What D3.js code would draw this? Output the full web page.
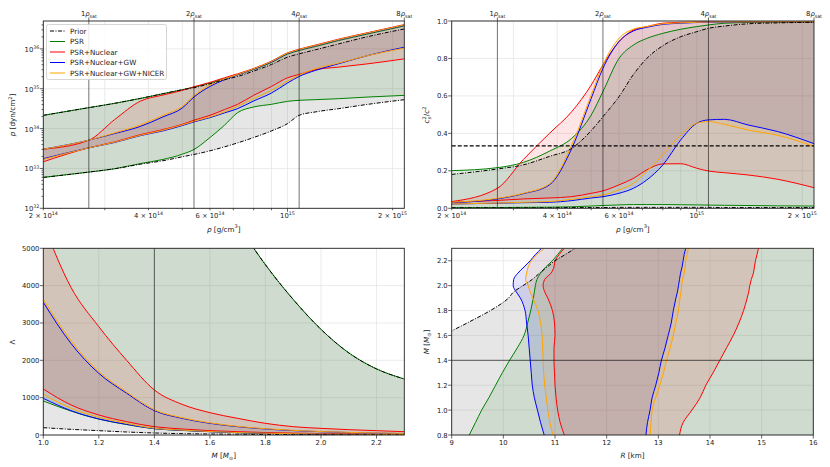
<!DOCTYPE html>
<html><head><meta charset="utf-8">
<script src="https://cdn.jsdelivr.net/npm/d3@7/dist/d3.min.js"></script>
<style>body{margin:0;background:#fff}svg{display:block}</style>
</head><body>
<script>
// ---------------- DATA ----------------
const SERIES = ["Prior", "PSR", "PSR+Nuclear", "PSR+Nuclear+GW", "PSR+Nuclear+GW+NICER"];
const RHO_SAT = [2.7e14, 5.4e14, 1.08e15, 2.16e15];
const RHO_SAT_LABELS = ["1", "2", "4", "8"];

// density grid [g/cm^3] (top panels)
const RHO = [2.0e14, 2.7e14, 3.2e14, 3.8e14, 4.4e14, 5.0e14, 5.4e14, 6.0e14, 6.6e14, 7.2e14, 8.0e14, 9.0e14, 1.0e15, 1.08e15, 1.2e15, 1.4e15, 1.7e15, 2.16e15];

// pressure bands [dyn/cm^2]
const pPriorLo = [5.96e32, 8.10e32, 9.82e32, 1.28e33, 1.56e33, 1.96e33, 2.24e33, 2.77e33, 3.48e33, 4.38e33, 5.96e33, 8.75e33, 1.33e34, 2.15e34, 2.61e34, 3.16e34, 4.06e34, 5.31e34];
const pPriorHi = [2.15e34, 3.35e34, 4.30e34, 5.73e34, 7.50e34, 9.44e34, 1.06e35, 1.33e35, 1.68e35, 2.03e35, 2.77e35, 4.06e35, 6.19e35, 7.50e35, 9.44e35, 1.33e36, 2.03e36, 3.16e36];
const pPsrLo = [5.96e32, 8.10e32, 9.82e32, 1.33e33, 1.68e33, 2.28e33, 2.99e33, 5.96e33, 1.21e34, 2.51e34, 3.48e34, 4.06e34, 4.82e34, 5.11e34, 5.31e34, 5.62e34, 6.19e34, 6.81e34];
const pPsrHi = [2.15e34, 3.35e34, 4.30e34, 5.73e34, 7.50e34, 9.44e34, 1.10e35, 1.39e35, 1.78e35, 2.24e35, 3.04e35, 4.55e35, 7.36e35, 9.08e35, 1.14e36, 1.61e36, 2.37e36, 3.76e36];
const pNucLo = [1.47e33, 3.29e33, 4.64e33, 7.08e33, 9.44e33, 1.28e34, 1.62e34, 2.15e34, 2.99e34, 4.06e34, 6.81e34, 1.14e35, 1.88e35, 2.28e35, 2.99e35, 3.48e35, 4.22e35, 5.62e35];
const pNucHi = [3.04e33, 5.11e33, 1.68e34, 4.92e34, 6.95e34, 9.08e34, 1.12e35, 1.44e35, 1.88e35, 2.37e35, 3.22e35, 4.92e35, 7.94e35, 9.81e35, 1.24e36, 1.75e36, 2.56e36, 4.06e36];
const pGwLo = [1.75e33, 3.29e33, 4.47e33, 6.68e33, 8.75e33, 1.19e34, 1.47e34, 1.88e34, 2.47e34, 3.16e34, 4.92e34, 7.79e34, 1.39e35, 2.03e35, 2.87e35, 4.22e35, 6.81e35, 1.10e36];
const pGwHi = [3.04e33, 5.11e33, 7.50e33, 1.14e34, 1.96e34, 3.29e34, 6.19e34, 1.14e35, 1.68e35, 2.24e35, 3.10e35, 4.73e35, 7.64e35, 9.44e35, 1.19e36, 1.68e36, 2.47e36, 3.91e36];
const pNicerLo = [1.68e33, 3.29e33, 4.55e33, 6.81e33, 9.08e33, 1.24e34, 1.52e34, 1.96e34, 2.61e34, 3.61e34, 5.62e34, 9.08e34, 1.56e35, 2.20e35, 3.16e35, 4.38e35, 6.81e35, 1.04e36];
const pNicerHi = [3.04e33, 5.11e33, 7.79e33, 1.24e34, 2.15e34, 3.61e34, 6.68e34, 1.24e35, 1.75e35, 2.28e35, 3.16e35, 4.82e35, 7.79e35, 9.62e35, 1.21e36, 1.71e36, 2.51e36, 3.98e36];

// squared sound speed bands [c^2]
const csPriorLo = [0.003, 0.003, 0.003, 0.003, 0.004, 0.004, 0.004, 0.005, 0.005, 0.005, 0.005, 0.005, 0.005, 0.005, 0.004, 0.004, 0.004, 0.004];
const csPriorHi = [0.181, 0.21, 0.232, 0.277, 0.32, 0.415, 0.489, 0.596, 0.715, 0.80, 0.868, 0.916, 0.943, 0.961, 0.973, 0.985, 0.99, 0.993];
const csPsrLo = [0.003, 0.004, 0.005, 0.006, 0.008, 0.012, 0.015, 0.018, 0.02, 0.02, 0.02, 0.019, 0.018, 0.017, 0.016, 0.015, 0.013, 0.012];
const csPsrHi = [0.201, 0.217, 0.245, 0.305, 0.374, 0.498, 0.623, 0.80, 0.872, 0.907, 0.934, 0.956, 0.97, 0.979, 0.988, 0.992, 0.994, 0.995];
const csNucLo = [0.032, 0.042, 0.05, 0.055, 0.062, 0.08, 0.093, 0.125, 0.16, 0.205, 0.237, 0.238, 0.214, 0.199, 0.19, 0.178, 0.155, 0.11];
const csNucHi = [0.036, 0.107, 0.26, 0.40, 0.516, 0.658, 0.765, 0.89, 0.952, 0.97, 0.988, 0.993, 0.995, 0.996, 0.996, 0.996, 0.996, 0.996];
const csGwLo = [0.023, 0.027, 0.03, 0.032, 0.041, 0.055, 0.062, 0.08, 0.107, 0.151, 0.231, 0.365, 0.454, 0.472, 0.475, 0.445, 0.41, 0.345];
const csGwHi = [0.03, 0.05, 0.078, 0.125, 0.32, 0.587, 0.747, 0.89, 0.947, 0.966, 0.982, 0.988, 0.992, 0.994, 0.995, 0.996, 0.996, 0.996];
const csNicerLo = [0.023, 0.028, 0.032, 0.036, 0.048, 0.062, 0.071, 0.098, 0.133, 0.196, 0.285, 0.391, 0.454, 0.463, 0.448, 0.418, 0.39, 0.33];
const csNicerHi = [0.032, 0.053, 0.08, 0.13, 0.338, 0.605, 0.765, 0.907, 0.957, 0.97, 0.985, 0.99, 0.993, 0.995, 0.996, 0.996, 0.996, 0.996];

// tidal deformability bands vs mass [M_sun]
const M_LAM = [1.0, 1.1, 1.2, 1.3, 1.4, 1.5, 1.6, 1.7, 1.8, 1.9, 2.0, 2.1, 2.2, 2.3];
const lamPriorLo = [196, 152, 116, 80, 54, 36, 27, 20, 15, 11, 8, 6, 5, 4];
const lamPriorHi = [60000, 35000, 21000, 14000, 10000, 8200, 6900, 5650, 4560, 3630, 2830, 2200, 1770, 1500];
const lamPsrLo = [911, 640, 425, 280, 168, 122, 88, 62, 44, 32, 23, 17, 12, 9];
const lamPsrHi = [60000, 35000, 21000, 14000, 10000, 8200, 6900, 5650, 4560, 3630, 2830, 2200, 1770, 1500];
const lamNucLo = [1232, 804, 536, 357, 223, 161, 116, 89, 66, 50, 38, 29, 22, 17];
const lamNucHi = [5650, 3950, 2900, 2000, 1205, 821, 598, 446, 312, 223, 178, 143, 116, 89];
const lamGwLo = [982, 652, 429, 286, 170, 125, 89, 62, 45, 33, 24, 18, 13, 10];
const lamGwHi = [3554, 2450, 1650, 1120, 652, 446, 312, 223, 160, 118, 88, 66, 50, 40];
const lamNicerLo = [1089, 714, 473, 312, 179, 130, 93, 66, 48, 35, 26, 19, 14, 11];
const lamNicerHi = [3634, 2520, 1700, 1150, 675, 462, 325, 232, 168, 124, 92, 70, 54, 43];

// radius bands [km] vs mass [M_sun]
const M_MR = [0.8, 0.9, 1.0, 1.1, 1.2, 1.3, 1.4, 1.5, 1.6, 1.7, 1.8, 1.9, 1.95, 2.0, 2.05, 2.1, 2.15, 2.2, 2.25, 2.3];
const rPriorMin = [6.0, 6.4, 6.8, 7.2, 7.6, 8.0, 8.3, 8.6, 8.85, 9.3, 9.75, 10.1, 10.2, 10.38, 10.56, 10.7, 10.85, 11.0, 11.2, 11.39];
const rPriorMax = [17, 17, 17, 17, 17, 17, 17, 17, 17, 17, 17, 17, 17, 17, 17, 17, 17, 17, 17, 17];
const rPsrMin = [9.34, 9.46, 9.58, 9.72, 9.85, 9.98, 10.12, 10.27, 10.4, 10.47, 10.53, 10.58, 10.6, 10.62, 10.65, 10.72, 10.82, 10.95, 11.05, 11.15];
const rPsrMax = [17, 17, 17, 17, 17, 17, 17, 17, 17, 17, 17, 17, 17, 17, 17, 17, 17, 17, 17, 17];
const rNucMin = [11.18, 11.1, 11.05, 11.02, 11.0, 10.99, 10.98, 10.98, 11.0, 10.99, 10.95, 10.86, 10.8, 10.77, 10.8, 10.92, 10.98, 11.0, 11.08, 11.18];
const rNucMax = [13.41, 13.48, 13.65, 13.81, 13.92, 14.06, 14.19, 14.32, 14.45, 14.56, 14.65, 14.72, 14.75, 14.77, 14.8, 14.84, 14.86, 14.88, 14.91, 14.94];
const rGwMin = [10.79, 10.72, 10.66, 10.6, 10.56, 10.54, 10.52, 10.5, 10.48, 10.45, 10.42, 10.33, 10.25, 10.19, 10.2, 10.28, 10.4, 10.52, 10.62, 10.74];
const rGwMax = [12.76, 12.79, 12.84, 12.88, 12.95, 13.01, 13.06, 13.13, 13.19, 13.25, 13.29, 13.34, 13.37, 13.39, 13.41, 13.43, 13.46, 13.48, 13.5, 13.53];
const rNicerMin = [10.96, 10.9, 10.86, 10.83, 10.8, 10.78, 10.77, 10.76, 10.75, 10.72, 10.67, 10.57, 10.52, 10.48, 10.43, 10.45, 10.48, 10.54, 10.65, 10.8];
const rNicerMax = [12.84, 12.86, 12.88, 12.95, 13.03, 13.1, 13.16, 13.23, 13.29, 13.34, 13.39, 13.42, 13.44, 13.45, 13.47, 13.5, 13.52, 13.53, 13.56, 13.58];

// tick values
const LAM_TICKS = [0, 1000, 2000, 3000, 4000, 5000];
const M_TICKS = [1.0, 1.2, 1.4, 1.6, 1.8, 2.0, 2.2];
const R_TICKS = [9, 10, 11, 12, 13, 14, 15, 16];
const MR_TICKS = [0.8, 1.0, 1.2, 1.4, 1.6, 1.8, 2.0, 2.2];
const CS_TICKS = [0.0, 0.2, 0.4, 0.6, 0.8, 1.0];
const P_TICKS = [1e32, 1e33, 1e34, 1e35, 1e36];

// ---------------- STYLE ----------------
const STY = [
  {color: "black", fill: "gray", op: 0.2, dash: "4,1.5,1,1.5"},
  {color: "green", fill: "green", op: 0.1, dash: null},
  {color: "red", fill: "red", op: 0.1, dash: null},
  {color: "blue", fill: "blue", op: 0.1, dash: null},
  {color: "orange", fill: "orange", op: 0.1, dash: null}
];
const FS = 7.2;
const FONT = "DejaVu Sans, sans-serif";

const svg = d3.select("body").append("svg").attr("width", 830).attr("height", 467)
  .style("font-family", FONT);
const defs = svg.append("defs");

function rich(g, x, y, parts, opt = {}) {
  const fs = opt.fs || FS;
  const t = g.append("text").attr("x", x).attr("y", y).attr("font-size", fs)
    .attr("fill", "#222").attr("text-anchor", opt.anchor || "middle");
  if (opt.rotate) t.attr("transform", `rotate(-90,${x},${y})`);
  let shift = 0;
  parts.forEach(p => {
    const target = p.sup ? -0.42 * fs : p.sub ? 0.28 * fs : 0;
    const ts = t.append("tspan").attr("dy", target - shift).text(p.t);
    if (p.sup || p.sub) ts.attr("font-size", fs * 0.7);
    if (p.i) ts.attr("font-style", "italic");
    if (p.dx) ts.attr("dx", p.dx);
    shift = target;
  });
  return t;
}

function makePanel(id, box, xs, ys) {
  const g = svg.append("g");
  defs.append("clipPath").attr("id", id).append("rect")
    .attr("x", box.x0).attr("y", box.y0).attr("width", box.x1 - box.x0).attr("height", box.y1 - box.y0);
  const grid = g.append("g");
  const data = g.append("g").attr("clip-path", `url(#${id})`);
  const over = g.append("g");
  return {g, grid, data, over, box, xs, ys};
}

function frame(p) {
  p.over.append("rect").attr("x", p.box.x0).attr("y", p.box.y0)
    .attr("width", p.box.x1 - p.box.x0).attr("height", p.box.y1 - p.box.y0)
    .attr("fill", "none").attr("stroke", "#222").attr("stroke-width", 0.9);
}
function vgrid(p, vals) {
  vals.forEach(v => p.grid.append("line").attr("x1", p.xs(v)).attr("x2", p.xs(v))
    .attr("y1", p.box.y0).attr("y2", p.box.y1).attr("stroke", "#e6e6e6").attr("stroke-width", 0.8));
}
function hgrid(p, vals) {
  vals.forEach(v => p.grid.append("line").attr("y1", p.ys(v)).attr("y2", p.ys(v))
    .attr("x1", p.box.x0).attr("x2", p.box.x1).attr("stroke", "#e6e6e6").attr("stroke-width", 0.8));
}
function xtick(p, v, len, yy, dir) {
  p.over.append("line").attr("x1", p.xs(v)).attr("x2", p.xs(v))
    .attr("y1", yy).attr("y2", yy + dir * len).attr("stroke", "#222").attr("stroke-width", 0.7);
}
function ytick(p, v, len) {
  p.over.append("line").attr("y1", p.ys(v)).attr("y2", p.ys(v))
    .attr("x1", p.box.x0).attr("x2", p.box.x0 - len).attr("stroke", "#222").attr("stroke-width", 0.7);
}
function refV(p, v) {
  p.over.append("line").attr("x1", p.xs(v)).attr("x2", p.xs(v)).attr("y1", p.box.y0).attr("y2", p.box.y1)
    .attr("stroke", "#000").attr("stroke-opacity", 0.55).attr("stroke-width", 1);
}

// bands drawn for x-function panels
function bandsX(p, xv, los, his) {
  los.forEach((lo, k) => {
    const d = xv.map((x, i) => ({x, a: lo[i], b: his[k][i]}));
    p.data.append("path").datum(d)
      .attr("d", d3.area().x(q => p.xs(q.x)).y0(q => p.ys(q.a)).y1(q => p.ys(q.b)).curve(d3.curveMonotoneX))
      .attr("fill", STY[k].fill).attr("fill-opacity", STY[k].op).attr("stroke", "none");
  });
  const order = [1, 2, 3, 4, 0];
  order.forEach(k => {
    [los[k], his[k]].forEach(arr => {
      const d = xv.map((x, i) => ({x, v: arr[i]}));
      p.data.append("path").datum(d)
        .attr("d", d3.line().x(q => p.xs(q.x)).y(q => p.ys(q.v)).curve(d3.curveMonotoneX))
        .attr("fill", "none").attr("stroke", STY[k].color).attr("stroke-width", 1)
        .attr("stroke-dasharray", STY[k].dash);
    });
  });
}

// ---------- Panel boxes ----------
const boxTL = {x0: 43.3, x1: 404.3, y0: 21, y1: 208.3};
const boxTR = {x0: 451.7, x1: 814, y0: 21, y1: 208.3};
const boxBL = {x0: 43.3, x1: 404.3, y0: 248.3, y1: 435};
const boxBR = {x0: 451.7, x1: 813.3, y0: 248.3, y1: 435};

const RHO_MINOR = [2e14, 3e14, 4e14, 5e14, 6e14, 7e14, 8e14, 9e14, 1e15, 2e15];
const RHO_LABELED = [[2e14, "2 × 10", "14"], [4e14, "4 × 10", "14"], [6e14, "6 × 10", "14"], [1e15, "10", "15"], [2e15, "2 × 10", "15"]];

function rhoAxes(p) {
  vgrid(p, RHO_MINOR);
  RHO_MINOR.forEach(v => xtick(p, v, v === 1e15 ? 3.5 : 2, p.box.y1, 1));
  RHO_LABELED.forEach(([v, b, s]) => rich(p.over, p.xs(v), p.box.y1 + 9.5, [{t: b}, {t: s, sup: true}], {fs: 6.8}));
  RHO_SAT.forEach((v, i) => {
    xtick(p, v, 3.5, p.box.y0, -1);
    rich(p.over, p.xs(v), p.box.y0 - 5, [{t: RHO_SAT_LABELS[i]}, {t: "ρ", i: true}, {t: "sat", sub: true}], {fs: 6.8});
    if (i < 3) refV(p, v);
  });
  rich(p.over, (p.box.x0 + p.box.x1) / 2, 231.5, [{t: "ρ", i: true}, {t: " [g/cm"}, {t: "3", sup: true}, {t: "]"}]);
}

// ---------- Panel TL: pressure ----------
const pTL = makePanel("cTL", boxTL,
  d3.scaleLog().domain([2e14, 2.16e15]).range([boxTL.x0, boxTL.x1]),
  d3.scaleLog().domain([1e32, 5e36]).range([boxTL.y1, boxTL.y0]));
hgrid(pTL, P_TICKS);
bandsX(pTL, RHO, [pPriorLo, pPsrLo, pNucLo, pGwLo, pNicerLo], [pPriorHi, pPsrHi, pNucHi, pGwHi, pNicerHi]);
rhoAxes(pTL);
P_TICKS.forEach(v => {
  ytick(pTL, v, 3.5);
  rich(pTL.over, boxTL.x0 - 4, pTL.ys(v) + 3, [{t: "10"}, {t: String(Math.round(Math.log10(v))), sup: true}], {anchor: "end", fs: 6.8});
});
for (let e = 32; e < 37; e++) for (let m = 2; m <= 9; m++) {
  const v = m * Math.pow(10, e);
  if (v < 5e36) ytick(pTL, v, 1.8);
}
rich(pTL.over, 15, 115, [{t: "p", i: true}, {t: " [dyn/cm"}, {t: "2", sup: true}, {t: "]"}], {rotate: true});
frame(pTL);

// legend
const lg = pTL.over.append("g");
lg.append("rect").attr("x", 46.5).attr("y", 24.5).attr("width", 120).attr("height", 55).attr("rx", 2)
  .attr("fill", "#fff").attr("fill-opacity", 0.85).attr("stroke", "#cccccc").attr("stroke-width", 0.8);
SERIES.forEach((s, i) => {
  const yy = 31 + i * 10.5;
  lg.append("line").attr("x1", 50).attr("x2", 65).attr("y1", yy).attr("y2", yy)
    .attr("stroke", STY[i].color).attr("stroke-width", 1).attr("stroke-dasharray", STY[i].dash);
  lg.append("text").attr("x", 70).attr("y", yy + 2.6).attr("font-size", FS).attr("fill", "#222").text(s);
});

// ---------- Panel TR: sound speed ----------
const pTR = makePanel("cTR", boxTR,
  d3.scaleLog().domain([2e14, 2.16e15]).range([boxTR.x0, boxTR.x1]),
  d3.scaleLinear().domain([0, 1]).range([boxTR.y1, boxTR.y0]));
hgrid(pTR, CS_TICKS);
bandsX(pTR, RHO, [csPriorLo, csPsrLo, csNucLo, csGwLo, csNicerLo], [csPriorHi, csPsrHi, csNucHi, csGwHi, csNicerHi]);
pTR.over.append("line").attr("x1", boxTR.x0).attr("x2", boxTR.x1).attr("y1", pTR.ys(1 / 3)).attr("y2", pTR.ys(1 / 3))
  .attr("stroke", "#000").attr("stroke-width", 1.2).attr("stroke-dasharray", "4,2");
rhoAxes(pTR);
CS_TICKS.forEach(v => {
  ytick(pTR, v, 3.5);
  rich(pTR.over, boxTR.x0 - 4, pTR.ys(v) + 2.5, [{t: v.toFixed(1)}], {anchor: "end", fs: 6.8});
});
rich(pTR.over, 429, 115, [{t: "c", i: true}, {t: "s", sub: true, i: true}, {t: "2", sup: true, dx: -2.6}, {t: "/"}, {t: "c", i: true}, {t: "2", sup: true}], {rotate: true});
frame(pTR);

// ---------- Panel BL: tidal deformability ----------
const pBL = makePanel("cBL", boxBL,
  d3.scaleLinear().domain([1.0, 2.3]).range([boxBL.x0, boxBL.x1]),
  d3.scaleLinear().domain([0, 5000]).range([boxBL.y1, boxBL.y0]));
hgrid(pBL, LAM_TICKS);
vgrid(pBL, M_TICKS);
bandsX(pBL, M_LAM, [lamPriorLo, lamPsrLo, lamNucLo, lamGwLo, lamNicerLo], [lamPriorHi, lamPsrHi, lamNucHi, lamGwHi, lamNicerHi]);
refV(pBL, 1.4);
M_TICKS.forEach(v => {
  xtick(pBL, v, 3.5, boxBL.y1, 1);
  rich(pBL.over, pBL.xs(v), boxBL.y1 + 9.5, [{t: v.toFixed(1)}], {fs: 6.8});
});
LAM_TICKS.forEach(v => {
  ytick(pBL, v, 3.5);
  rich(pBL.over, boxBL.x0 - 4, pBL.ys(v) + 2.5, [{t: String(v)}], {anchor: "end", fs: 6.8});
});
rich(pBL.over, 223.8, 457.5, [{t: "M", i: true}, {t: " ["}, {t: "M", i: true}, {t: "⊙", sub: true}, {t: "]"}]);
rich(pBL.over, 15, 342, [{t: "Λ"}], {rotate: true});
frame(pBL);

// ---------- Panel BR: mass-radius ----------
const pBR = makePanel("cBR", boxBR,
  d3.scaleLinear().domain([9, 16]).range([boxBR.x0, boxBR.x1]),
  d3.scaleLinear().domain([0.8, 2.3]).range([boxBR.y1, boxBR.y0]));
hgrid(pBR, MR_TICKS);
vgrid(pBR, R_TICKS);
{
  const mins = [rPriorMin, rPsrMin, rNucMin, rGwMin, rNicerMin];
  const maxs = [rPriorMax, rPsrMax, rNucMax, rGwMax, rNicerMax];
  mins.forEach((mn, k) => {
    const d = M_MR.map((m, i) => ({m, a: mn[i], b: maxs[k][i]}));
    pBR.data.append("path").datum(d)
      .attr("d", d3.area().y(q => pBR.ys(q.m)).x0(q => pBR.xs(q.a)).x1(q => pBR.xs(q.b)).curve(d3.curveMonotoneY))
      .attr("fill", STY[k].fill).attr("fill-opacity", STY[k].op);
  });
  [1, 2, 3, 4, 0].forEach(k => {
    [mins[k], maxs[k]].forEach(arr => {
      const d = M_MR.map((m, i) => ({m, v: arr[i]}));
      pBR.data.append("path").datum(d)
        .attr("d", d3.line().y(q => pBR.ys(q.m)).x(q => pBR.xs(q.v)).curve(d3.curveMonotoneY))
        .attr("fill", "none").attr("stroke", STY[k].color).attr("stroke-width", 1)
        .attr("stroke-dasharray", STY[k].dash);
    });
  });
}
pBR.over.append("line").attr("x1", boxBR.x0).attr("x2", boxBR.x1).attr("y1", pBR.ys(1.4)).attr("y2", pBR.ys(1.4))
  .attr("stroke", "#000").attr("stroke-opacity", 0.6).attr("stroke-width", 1);
R_TICKS.forEach(v => {
  xtick(pBR, v, 3.5, boxBR.y1, 1);
  rich(pBR.over, pBR.xs(v), boxBR.y1 + 9.5, [{t: String(v)}], {fs: 6.8});
});
MR_TICKS.forEach(v => {
  ytick(pBR, v, 3.5);
  rich(pBR.over, boxBR.x0 - 4, pBR.ys(v) + 2.5, [{t: v.toFixed(1)}], {anchor: "end", fs: 6.8});
});
rich(pBR.over, 632.5, 457.5, [{t: "R", i: true}, {t: " [km]"}]);
rich(pBR.over, 429, 342, [{t: "M", i: true}, {t: " ["}, {t: "M", i: true}, {t: "⊙", sub: true}, {t: "]"}], {rotate: true});
frame(pBR);
</script>
</body></html>
